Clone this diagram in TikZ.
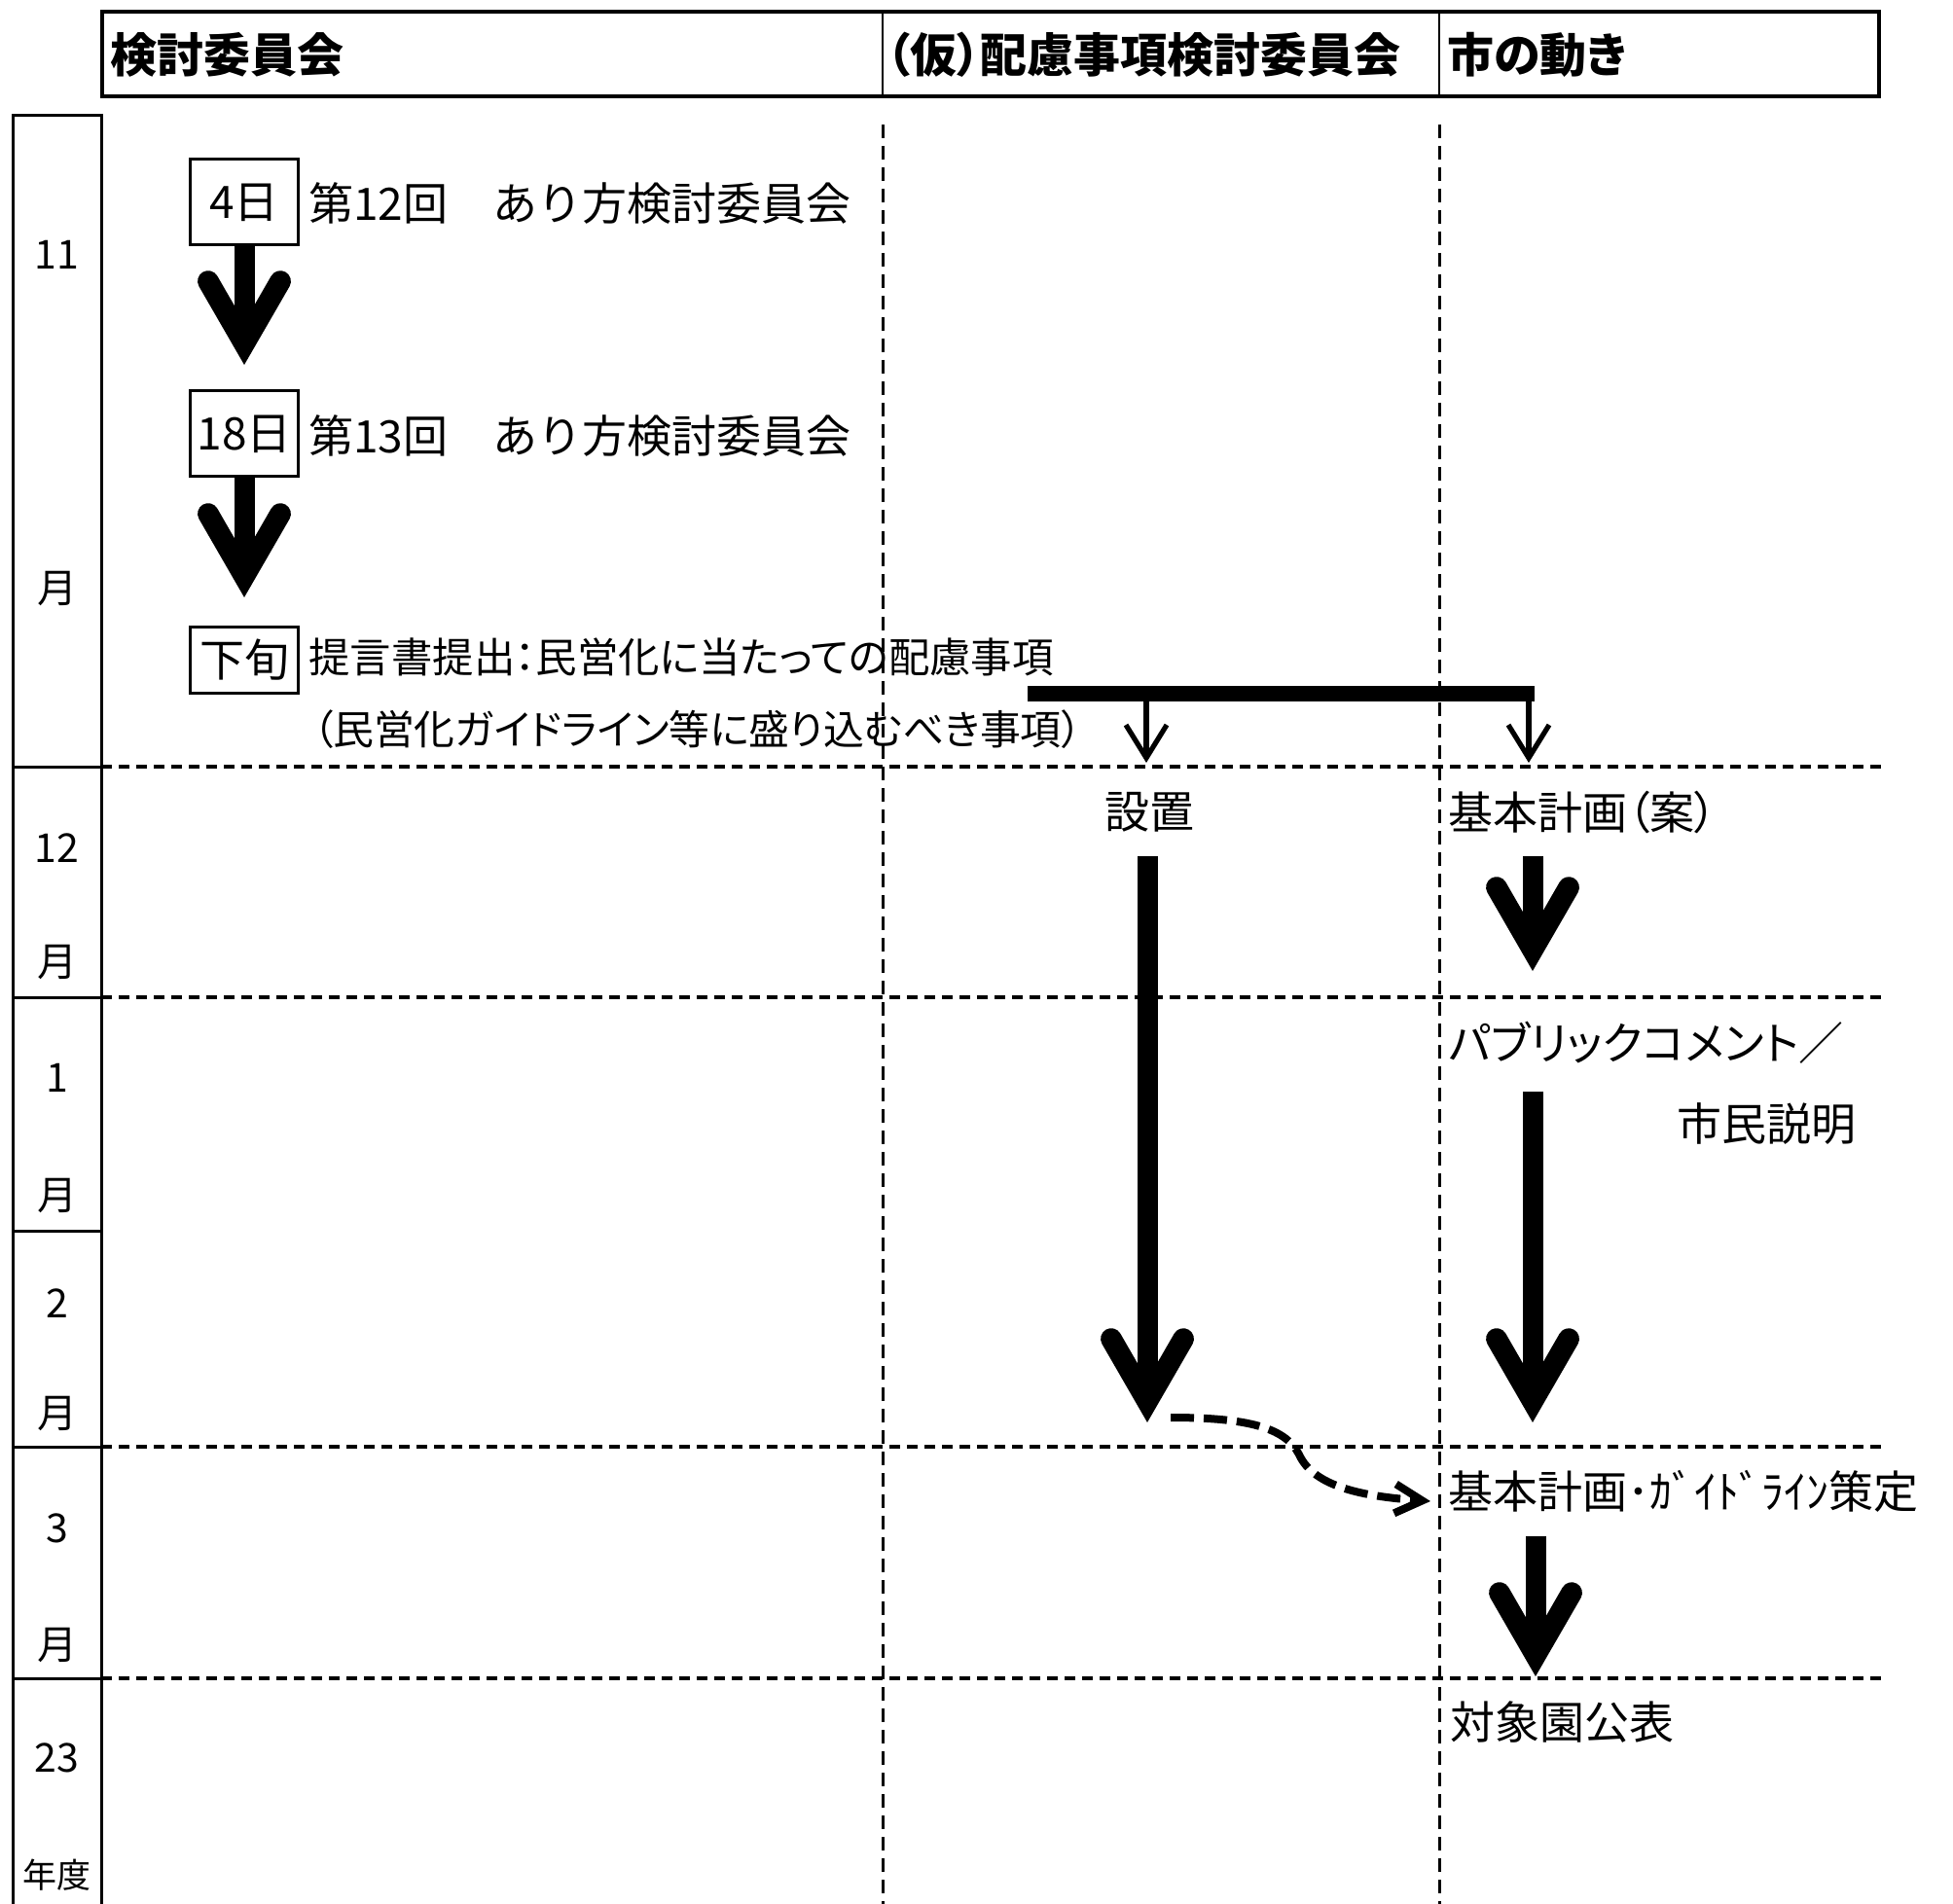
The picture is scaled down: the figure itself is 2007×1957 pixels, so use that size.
\documentclass[tikz,border=0pt]{standalone}
\usepackage{fontspec}
\usetikzlibrary{arrows.meta,calc}
\newfontfamily\jp{Noto Sans CJK JP}
\newfontfamily\jpp{Noto Sans CJK JP}[RawFeature=+palt]
\tikzset{
  txt/.style={inner sep=0pt, anchor=west, font=\jp\fontsize{23pt}{27pt}\selectfont},
  ptxt/.style={inner sep=0pt, anchor=west, font=\jpp\fontsize{23pt}{27pt}\selectfont},
  stxt/.style={inner sep=0pt, anchor=west, font=\jpp\fontsize{21.2pt}{25pt}\selectfont},
  ctxt/.style={inner sep=0pt, font=\jp\fontsize{23pt}{27pt}\selectfont},
  hdr/.style={inner sep=0pt, anchor=west, font=\jpp\bfseries\fontsize{24pt}{28pt}\selectfont},
  mon/.style={inner sep=0pt, font=\jp\fontsize{20.5pt}{24pt}\selectfont},
  datebox/.style={draw, line width=1.5pt, minimum width=55.5pt, minimum height=44pt, inner sep=0pt, font=\jp\fontsize{23pt}{27pt}\selectfont},
  frame/.style={line width=1.5pt},
  shaft/.style={line width=10.5pt},
  vdash/.style={line width=1.5pt, dash pattern=on 7pt off 4pt},
  hdash/.style={line width=2pt, dash pattern=on 5.5pt off 3.5pt},
  bar/.style={line width=8pt},
  thinarrow/.style={line width=2.6pt, -{Straight Barb[length=17pt,width=21pt]}},
  curvearrow/.style={line width=4pt, dash pattern=on 12pt off 5pt, -{Straight Barb[length=14pt,width=15pt]}},
  bighead/.pic={
    \fill[yscale=-1] (0,0) -- (46.5,80.5) arc[start angle=-30,end angle=150,radius=10.85]
      -- (0,43.3) -- (-27.7,91.4) arc[start angle=30,end angle=210,radius=10.85] -- cycle;
  }
}
\begin{document}
\begin{tikzpicture}[x=0.5pt,y=-0.5pt]
\useasboundingbox (0,0) rectangle (2007,1957);
% header
\draw[line width=2pt] (105,12) rectangle (1931,99);
\draw[line width=1.2pt] (907,12) -- (907,99);
\draw[line width=1.2pt] (1479,12) -- (1479,99);
\node[hdr] (h1) at (113,56) {検討委員会};
\node[hdr] (h2) at (911,56) {（仮）配慮事項検討委員会};
\node[hdr] (h3) at (1487,56) {市の動き};
% month column
\draw[frame] (13,1957) -- (13,119) -- (104,119) -- (104,1957);
\foreach \yy in {788,1025,1265,1487,1725} \draw[frame] (13,\yy) -- (104,\yy);
\node[mon] (m11) at (58.5,262) {11};
\node[mon] (m11b) at (58.5,605) {月};
\node[mon] (m12) at (58.5,872) {12};
\node[mon] (m12b) at (58.5,989) {月};
\node[mon] (m1) at (58.5,1108) {1};
\node[mon] (m1b) at (58.5,1229) {月};
\node[mon] (m2) at (58.5,1340) {2};
\node[mon] (m2b) at (58.5,1453) {月};
\node[mon] (m3) at (58.5,1571) {3};
\node[mon] (m3b) at (58.5,1691) {月};
\node[mon] (m23) at (58.5,1807) {23};
\node[inner sep=0pt, font=\jp\fontsize{17.5pt}{21pt}\selectfont] (nendo) at (58.5,1927) {年度};
% grid dashed lines
\draw[vdash] (907,128) -- (907,1957);
\draw[vdash] (1479,128) -- (1479,1957);
\foreach \yy in {788,1025,1487,1725} \draw[hdash] (104,\yy) -- (1933,\yy);
% left column content
\node[datebox] (d1) at (251,208) {4日};
\node[txt] (e1) at (317,209) {第12回　あり方検討委員会};
\node[datebox] (d2) at (251,446) {18日};
\node[txt] (e2) at (317,448) {第13回　あり方検討委員会};
\node[datebox, minimum height=34pt] (d3) at (251,678) {下旬};
\node[stxt] (e3) at (317,675) {提言書提出：民営化に当たっての配慮事項};
\node[stxt, font=\jpp\fontsize{20.9pt}{25pt}\selectfont] (e4) at (321,750) {（民営化ガイドライン等に盛り込むべき事項）};
% middle / right columns
\node[ctxt] (s1) at (1181,835) {設置};
\node[ptxt] (c1) at (1488,835) {基本計画（案）};
\node[ptxt] (c2) at (1489,1072) {パブリックコメント／};
\node[txt] (c3) at (1723,1155) {市民説明};
\node[txt] (c4) at (1488,1533) {基本計画･ｶﾞｲﾄﾞﾗｲﾝ策定};
\node[txt] (c5) at (1490,1770) {対象園公表};
% bracket
\coordinate (bL) at (1056,713);
\coordinate (bR) at (1577,713);
\coordinate (b1) at (1178,713);
\coordinate (b2) at (1571,713);
\coordinate (t1s) at (1178,784);
\coordinate (t2s) at (1571,784);
\draw[bar] (bL) -- (bR);
\draw[thinarrow] (b1) -- (t1s);
\draw[thinarrow] (b2) -- (t2s);
% thick arrows
\coordinate (k1) at (251,375);
\draw[shaft] (d1.south) -- ($(k1)+(0,-40)$);
\pic at (k1) {bighead};
\coordinate (k2) at (251,614);
\draw[shaft] (d2.south) -- ($(k2)+(0,-40)$);
\pic at (k2) {bighead};
\coordinate (a3) at (1179,880);
\coordinate (k3) at (1179,1462);
\draw[shaft] (a3) -- ($(k3)+(0,-40)$);
\pic at (k3) {bighead};
\coordinate (a4) at (1575,880);
\coordinate (k4) at (1575,998);
\draw[shaft] (a4) -- ($(k4)+(0,-40)$);
\pic at (k4) {bighead};
\coordinate (a5) at (1575,1122);
\coordinate (k5) at (1575,1462);
\draw[shaft] (a5) -- ($(k5)+(0,-40)$);
\pic at (k5) {bighead};
\coordinate (a6) at (1578,1579);
\coordinate (k6) at (1578,1723);
\draw[shaft] (a6) -- ($(k6)+(0,-40)$);
\pic at (k6) {bighead};
% dashed curved arrow
\coordinate (cs) at (1203,1457);
\coordinate (ce) at (1470,1543);
\draw[curvearrow] (cs) .. controls (1290,1457) and (1322,1470) .. (1335,1495)
  .. controls (1350,1528) and (1400,1538) .. (ce);
\end{tikzpicture}
\end{document}
